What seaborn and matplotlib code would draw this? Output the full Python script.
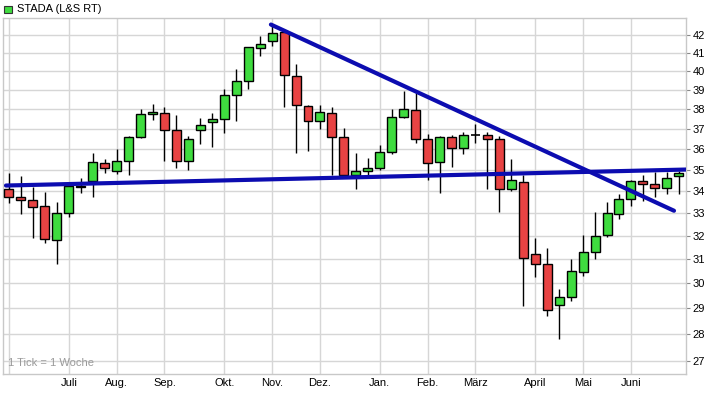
import matplotlib
matplotlib.use("Agg")
import matplotlib.pyplot as plt
from matplotlib.ticker import FixedLocator, NullLocator, FixedFormatter
from matplotlib.patches import Rectangle
import seaborn as sns
import numpy as np

## weekly candles (STADA, L&S RT)
opens = [34.1, 33.7, 33.6, 33.3, 31.8, 33.0, 34.2, 34.45, 35.3, 34.95,
         35.4, 36.6, 37.75, 37.8, 36.95, 35.4, 36.95, 37.35, 37.5, 38.7,
         39.45, 41.25, 41.65, 42.15, 39.75, 38.15, 37.4, 37.8, 36.6, 34.75,
         34.95, 35.05, 35.85, 37.6, 37.95, 36.5, 35.35, 36.6, 36.05, 36.7,
         36.7, 36.5, 34.1, 34.4, 31.2, 30.8, 29.15, 29.45, 30.45, 31.3,
         32.05, 32.95, 33.65, 34.45, 34.3, 34.15, 34.7]
highs = [34.85, 34.7, 34.2, 33.95, 33.5, 34.25, 34.6, 35.8, 35.5, 36.0,
         36.65, 38.0, 38.25, 38.1, 37.7, 36.65, 37.55, 37.8, 39.05, 40.1,
         41.35, 41.95, 42.5, 42.2, 40.4, 38.2, 38.2, 38.1, 37.05, 35.8,
         35.55, 36.2, 38.0, 38.95, 38.8, 36.75, 36.65, 36.7, 36.85, 37.25,
         36.85, 36.65, 35.5, 34.75, 31.9, 31.45, 29.75, 31.0, 32.05, 33.05,
         33.5, 33.85, 34.5, 34.75, 34.9, 34.9, 34.95]
lows = [33.45, 32.95, 31.9, 31.7, 30.8, 32.8, 33.9, 33.7, 34.85, 34.8,
        34.75, 36.55, 37.45, 35.4, 35.05, 35.0, 36.25, 36.1, 36.8, 37.4,
        39.05, 40.85, 41.4, 38.1, 35.8, 35.9, 37.0, 34.75, 34.7, 34.1,
        34.75, 35.0, 35.75, 37.55, 36.3, 34.5, 33.9, 35.1, 35.75, 36.3,
        34.1, 33.05, 34.0, 29.1, 30.25, 28.7, 27.8, 29.3, 30.3, 31.0,
        31.95, 32.75, 33.3, 33.55, 33.7, 33.85, 33.85]
closes = [33.7, 33.6, 33.25, 31.85, 33.0, 34.25, 34.25, 35.35, 35.05, 35.4,
          36.6, 37.75, 37.85, 36.95, 35.4, 36.5, 37.2, 37.5, 38.7, 39.45,
          41.3, 41.5, 42.1, 39.8, 38.2, 37.4, 37.85, 36.6, 34.75, 34.95,
          35.05, 35.85, 37.6, 38.0, 36.5, 35.3, 36.6, 36.05, 36.7, 36.7,
          36.5, 34.1, 34.5, 31.05, 30.8, 28.95, 29.45, 30.5, 31.3, 32.0,
          33.0, 33.65, 34.45, 34.3, 34.15, 34.6, 34.85]

## month start weeks
month_weeks = [5, 9, 13, 18, 22, 26, 31, 35, 39, 44, 48, 52]
month_labels = ['Juli', 'Aug.', 'Sep.', 'Okt.', 'Nov.', 'Dez.',
                'Jan.', 'Feb.', 'März', 'April', 'Mai', 'Juni']
price_ticks = list(range(27, 43))

## trend lines (week index, price)
support_x = [-0.25, 56.6]
support_y = [34.25, 35.0]
resist_x = [21.9, 55.6]
resist_y = [42.6, 33.1]

sns.set_style("white")
plt.rcParams['font.family'] = ['Liberation Sans', 'DejaVu Sans']

fig = plt.figure(figsize=(7.08, 3.93), dpi=100)
ax = fig.add_axes([3 / 708, 19 / 393, 682.6 / 708, 356 / 393])

ax.set_yscale('log')
ax.set_xlim(-0.5, 56.57)
ax.set_ylim(26.53, 42.98)

grid_c = '#d6d6d6'
for p in price_ticks:
    ax.axhline(p, color=grid_c, lw=1, zorder=0)
for w in [0] + month_weeks:
    ax.axvline(w, color=grid_c, lw=1, zorder=0)

green = '#3fdc3f'
red = '#e84343'
x = np.arange(len(opens))
ax.vlines(x, lows, highs, color='black', lw=1, zorder=2)
for i in x:
    o, c = opens[i], closes[i]
    col = green if c > o else red
    if c == o:
        ax.hlines(o, i - 0.38, i + 0.38, color='black', lw=1.2, zorder=3)
        continue
    ax.bar(i, abs(c - o), bottom=min(o, c), width=0.75, color=col,
           edgecolor='black', linewidth=1, zorder=3)

sns.lineplot(x=support_x, y=support_y, ax=ax, color='#0c0cb0', lw=3,
             zorder=4, clip_on=True)
sns.lineplot(x=resist_x, y=resist_y, ax=ax, color='#0c0cb0', lw=3,
             zorder=4, clip_on=True)

ax.yaxis.tick_right()
ax.yaxis.set_major_locator(FixedLocator(price_ticks))
ax.yaxis.set_major_formatter(FixedFormatter([str(p) for p in price_ticks]))
ax.yaxis.set_minor_locator(NullLocator())
ax.xaxis.set_major_locator(FixedLocator(month_weeks))
ax.xaxis.set_major_formatter(FixedFormatter(month_labels))
ax.xaxis.set_minor_locator(NullLocator())
ax.tick_params(axis='y', right=True, length=3, width=0.8, color='#888888',
               labelsize=8, pad=2, labelcolor='black')
ax.tick_params(axis='x', bottom=False, length=0, labelsize=8, pad=3,
               labelcolor='black')
for s in ax.spines.values():
    s.set_color('#c8c8c8')
    s.set_linewidth(1)

ax.text(0.008, 0.018, '1 Tick = 1 Woche', transform=ax.transAxes,
        fontsize=8, color='#9a9a9a', ha='left', va='bottom')

fig.patches.append(Rectangle((4 / 708, 1 - 12.5 / 393), 8 / 708, 6.5 / 393,
                             transform=fig.transFigure, facecolor=green,
                             edgecolor='#333333', lw=0.8))
fig.text(17 / 708, 1 - 9.5 / 393, 'STADA (L&S RT)', fontsize=8,
         ha='left', va='center', color='black')

fig.savefig('out.png', dpi=100)
